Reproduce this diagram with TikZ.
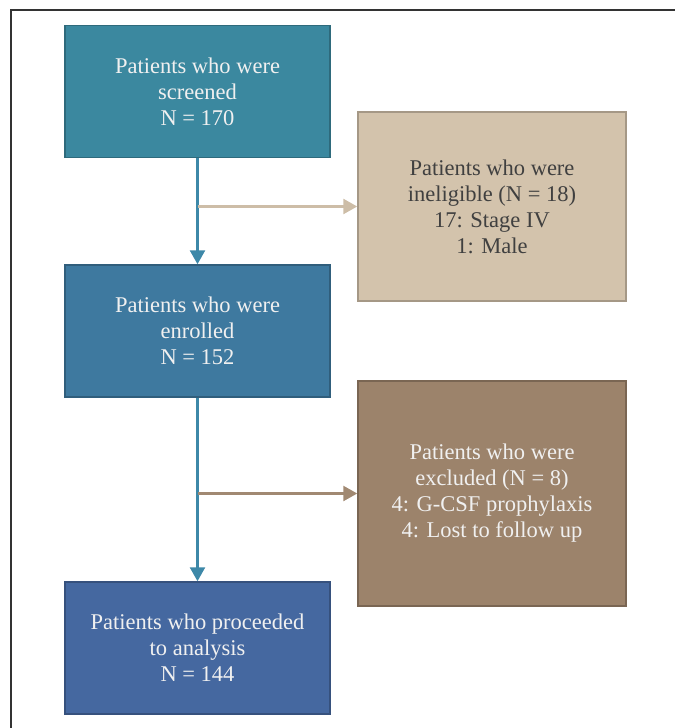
\documentclass[tikz,border=0pt]{standalone}
\usepackage{fontspec}
\setmainfont{Liberation Serif}
\usepackage{tikz}
\usetikzlibrary{positioning}
\usetikzlibrary{arrows.meta}

\definecolor{screenfill}{HTML}{3B889F}
\definecolor{enrollfill}{HTML}{3E799F}
\definecolor{analysisfill}{HTML}{4568A0}
\definecolor{ineligfill}{HTML}{D3C3AC}
\definecolor{exclfill}{HTML}{9C836B}
\definecolor{flowline}{HTML}{3D88A8}

\begin{document}
\begin{tikzpicture}[x=1pt,y=-1pt,
		stagebox/.style={
			rectangle,
			draw=black!22!#1,
			fill=#1,
			line width=1.5pt,
			text=white!94!black,
			align=center,
			minimum width=265pt,
			minimum height=132pt,
			font=\fontsize{22.5}{26}\selectfont,
		},
		sidebox/.style={
			stagebox=#1,
			minimum width=268pt,
		},
		flow/.style={
			draw=#1,
			line width=2.5pt,
			-{Triangle[length=14pt,width=15pt]},
		}]
		\useasboundingbox (0,0) rectangle (675,728);
		\draw[line width=2pt, black!80] (11,728) -- (11,10) -- (675,10);
		
		\node[stagebox=screenfill] (screen) at (197.5,91.5) {Patients who were\\screened\\N = 170};
		\node[stagebox=enrollfill] (enroll) at (197.5,331) {Patients who were\\enrolled\\N = 152};
		\node[stagebox=analysisfill] (analysis) at (197.5,648) {Patients who proceeded\\to analysis\\N = 144};
		
		\node[sidebox=ineligfill, text=black!75, minimum height=189pt] (inelig) at (492,206.5) {Patients who were\\ineligible (N = 18)\\17: Stage IV\\1: Male};
		\node[sidebox=exclfill, minimum height=225pt] (excl) at (492,493.5) {Patients who were\\excluded (N = 8)\\4: G-CSF prophylaxis\\4: Lost to follow up};
		
		\coordinate (split1) at (screen.south |- inelig.west);
		\coordinate (split2) at (enroll.south |- excl.west);
		
		\draw[flow=flowline] (screen.south) -- (enroll.north);
		\draw[flow=flowline] (enroll.south) -- (analysis.north);
		\draw[flow=ineligfill!97!black] (split1) -- (inelig.west);
		\draw[flow=exclfill!95!white] (split2) -- (excl.west);
	\end{tikzpicture}
\end{document}
